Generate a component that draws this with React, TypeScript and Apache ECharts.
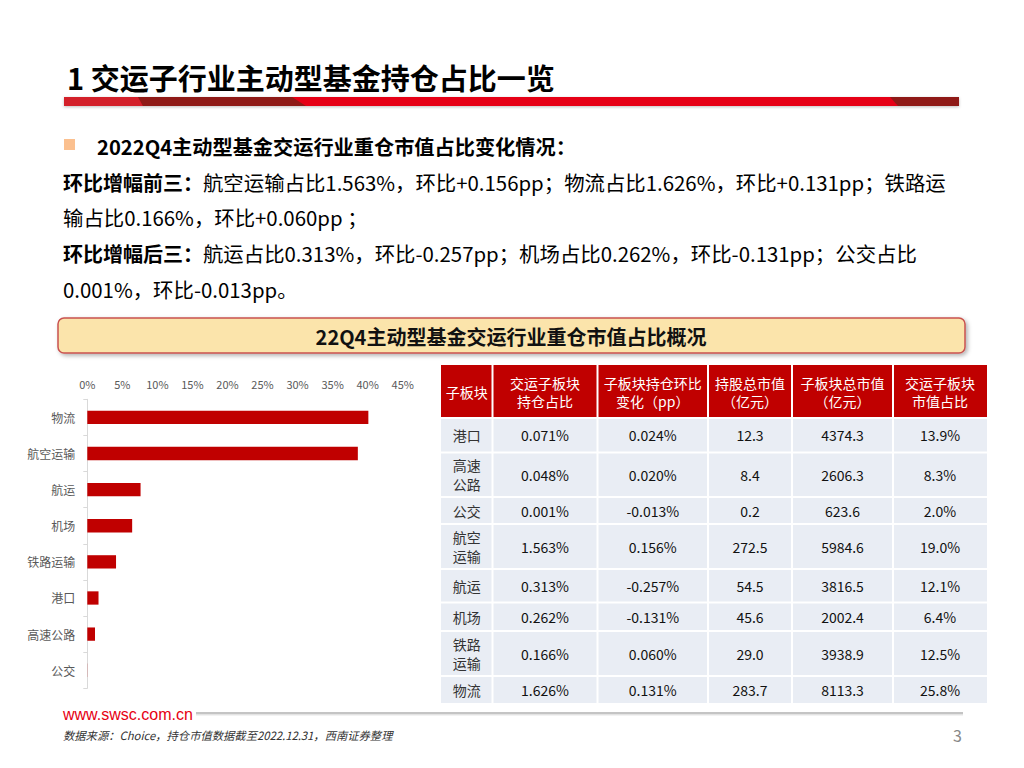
import React, { useEffect, useRef } from "react";
import * as echarts from "echarts";

// ---------- data ----------
const categories = ["物流", "航空运输", "航运", "机场", "铁路运输", "港口", "高速公路", "公交"];
const shareValues = [40.1, 38.6, 7.6, 6.4, 4.1, 1.6, 1.1, 0.02];
const axisMax = 45;
const axisStep = 5;

const tableHeader = [
  "子板块",
  "交运子板块\n持仓占比",
  "子板块持仓环比\n变化（pp）",
  "持股总市值\n（亿元）",
  "子板块总市值\n（亿元）",
  "交运子板块\n市值占比",
];
const sectors = ["港口", "高速\n公路", "公交", "航空\n运输", "航运", "机场", "铁路\n运输", "物流"];
const holdPct = ["0.071%", "0.048%", "0.001%", "1.563%", "0.313%", "0.262%", "0.166%", "1.626%"];
const qoqChange = ["0.024%", "0.020%", "-0.013%", "0.156%", "-0.257%", "-0.131%", "0.060%", "0.131%"];
const holdValue = ["12.3", "8.4", "0.2", "272.5", "54.5", "45.6", "29.0", "283.7"];
const totalValue = ["4374.3", "2606.3", "623.6", "5984.6", "3816.5", "2002.4", "3938.9", "8113.3"];
const mktShare = ["13.9%", "8.3%", "2.0%", "19.0%", "12.1%", "6.4%", "12.5%", "25.8%"];

const titleText = "1 交运子行业主动型基金持仓占比一览";
const bulletText = "2022Q4主动型基金交运行业重仓市值占比变化情况：";
const para = [
  ["环比增幅前三：", "航空运输占比1.563%，环比+0.156pp；物流占比1.626%，环比+0.131pp；铁路运"],
  ["", "输占比0.166%，环比+0.060pp ；"],
  ["环比增幅后三：", "航运占比0.313%，环比-0.257pp；机场占比0.262%，环比-0.131pp；公交占比"],
  ["", "0.001%，环比-0.013pp。"],
];
const bannerText = "22Q4主动型基金交运行业重仓市值占比概况";
const urlText = "www.swsc.com.cn";
const sourceText = "数据来源：Choice，持仓市值数据截至2022.12.31，西南证券整理";
const pageNo = "3";

// ---------- layout ----------
const F = '"Noto Sans CJK SC", "Microsoft YaHei", sans-serif';
const colEdges = [441, 492.5, 597.5, 708, 792, 893, 987];
const rowEdges = [365, 418, 452.5, 497, 524, 569, 602.5, 631, 676, 703];
const paraY = [182, 217, 253, 289];

function buildGraphic(): any[] {
  const g: any[] = [];
  // title
  g.push({
    type: "text",
    x: 67,
    y: 77,
    style: { text: titleText, fontSize: 29, fontWeight: "bold", fontFamily: F, fill: "#000", verticalAlign: "middle" },
  });
  // title bar
  g.push({
    type: "rect",
    shape: { x: 64, y: 97, width: 895, height: 9 },
    style: { fill: "#e60012", shadowBlur: 3, shadowColor: "rgba(0,0,0,0.25)", shadowOffsetY: 1 },
  });
  g.push({ type: "polygon", shape: { points: [[64, 97], [138, 97], [143, 106], [64, 106]] }, style: { fill: "#d3202a" } });
  g.push({ type: "polygon", shape: { points: [[138, 97], [292, 97], [306, 106], [143, 106]] }, style: { fill: "#8f1a17" } });
  g.push({ type: "polygon", shape: { points: [[890, 97], [959, 97], [959, 106], [898, 106]] }, style: { fill: "#8f1a17" } });

  // bullet
  g.push({ type: "rect", shape: { x: 64, y: 139, width: 11, height: 11 }, style: { fill: "#fbc08f" } });
  g.push({
    type: "text",
    x: 97,
    y: 146,
    style: { text: bulletText, fontSize: 20.2, fontWeight: "bold", fontFamily: F, fill: "#000", verticalAlign: "middle" },
  });
  para.forEach((p, i) => {
    const txt = (p[0] ? "{b|" + p[0] + "}" : "") + "{n|" + p[1] + "}";
    g.push({
      type: "text",
      x: 63,
      y: paraY[i],
      style: {
        text: txt,
        verticalAlign: "middle",
        rich: {
          b: { fontSize: 20, fontWeight: "bold", fontFamily: F, fill: "#000" },
          n: { fontSize: 20.4, fontFamily: F, fill: "#000" },
        },
      },
    });
  });

  // banner
  g.push({
    type: "rect",
    shape: { x: 58, y: 318, width: 907, height: 35, r: 6 },
    style: {
      fill: "#fbe4ab",
      stroke: "#c9524f",
      lineWidth: 1.5,
      shadowBlur: 4,
      shadowColor: "rgba(0,0,0,0.3)",
      shadowOffsetX: 2,
      shadowOffsetY: 2,
    },
  });
  g.push({
    type: "text",
    x: 511,
    y: 336,
    style: { text: bannerText, fontSize: 20, fontWeight: "bold", fontFamily: F, fill: "#111", align: "center", verticalAlign: "middle" },
  });

  // table
  const cols = [sectors, holdPct, qoqChange, holdValue, totalValue, mktShare];
  for (let r = 0; r < rowEdges.length - 1; r++) {
    for (let c = 0; c < colEdges.length - 1; c++) {
      const x0 = colEdges[c] + (c === 0 ? 0 : 1);
      const x1 = colEdges[c + 1] - (c === colEdges.length - 2 ? 0 : 1);
      const y0 = rowEdges[r] + (r === 0 ? 0 : 1);
      const y1 = rowEdges[r + 1] - (r === rowEdges.length - 2 ? 0 : 1);
      g.push({
        type: "rect",
        shape: { x: x0, y: y0, width: x1 - x0, height: y1 - y0 },
        style: { fill: r === 0 ? "#c00000" : "#e9edf4" },
      });
      const text = r === 0 ? tableHeader[c] : cols[c][r - 1];
      g.push({
        type: "text",
        x: (colEdges[c] + colEdges[c + 1]) / 2,
        y: (rowEdges[r] + rowEdges[r + 1]) / 2,
        style: {
          text,
          fontSize: 14,
          lineHeight: r === 0 ? 18 : 19,
          fontFamily: F,
          fill: r === 0 ? "#fff" : c === 0 ? "#333" : "#111",
          align: "center",
          verticalAlign: "middle",
        },
      });
    }
  }

  // footer
  g.push({
    type: "text",
    x: 63,
    y: 714,
    style: { text: urlText, fontSize: 16, fontFamily: "Liberation Sans, Arial, sans-serif", fill: "#e60012", verticalAlign: "middle" },
  });
  g.push({
    type: "rect",
    shape: { x: 196, y: 712, width: 767, height: 2.5 },
    style: { fill: "#c4c4c4" },
  });
  g.push({
    type: "rect",
    shape: { x: 196, y: 714.5, width: 767, height: 1 },
    style: { fill: "#e6e6e6" },
  });
  g.push({
    type: "text",
    x: 63,
    y: 735,
    style: { text: sourceText, fontSize: 11.3, fontStyle: "italic", fontFamily: F, fill: "#333", verticalAlign: "middle" },
  });
  g.push({
    type: "text",
    x: 962,
    y: 735,
    style: { text: pageNo, fontSize: 16, fontFamily: F, fill: "#888", align: "right", verticalAlign: "middle" },
  });
  return g;
}

export default function App() {
  const ref = useRef<HTMLDivElement>(null);
  useEffect(() => {
    if (!ref.current) return;
    const chart = echarts.init(ref.current, undefined, { renderer: "svg" });
    chart.setOption({
      animation: false,
      backgroundColor: "#fff",
      grid: { left: 87.3, top: 399.3, width: 315.4, height: 289, containLabel: false },
      xAxis: {
        type: "value",
        position: "top",
        min: 0,
        max: axisMax,
        interval: axisStep,
        axisLine: { show: false },
        axisTick: { show: false },
        splitLine: { show: false },
        axisLabel: { formatter: "{value}%", color: "#595959", fontSize: 11, fontFamily: F, margin: 10 },
      },
      yAxis: {
        type: "category",
        inverse: true,
        data: categories,
        axisLine: { show: true, lineStyle: { color: "#d9d9d9", width: 1 } },
        axisTick: { show: true, length: 4, lineStyle: { color: "#d9d9d9" } },
        axisLabel: { color: "#595959", fontSize: 12, fontFamily: F, margin: 12 },
      },
      series: [
        {
          type: "bar",
          data: shareValues,
          barWidth: 13.3,
          itemStyle: { color: "#c00000" },
          silent: true,
        },
      ],
      graphic: buildGraphic(),
    });
    return () => chart.dispose();
  }, []);
  return (
    <div
      ref={ref}
      style={{ position: "absolute", left: 0, top: 0, width: 1024, height: 768, background: "#fff" }}
    />
  );
}
